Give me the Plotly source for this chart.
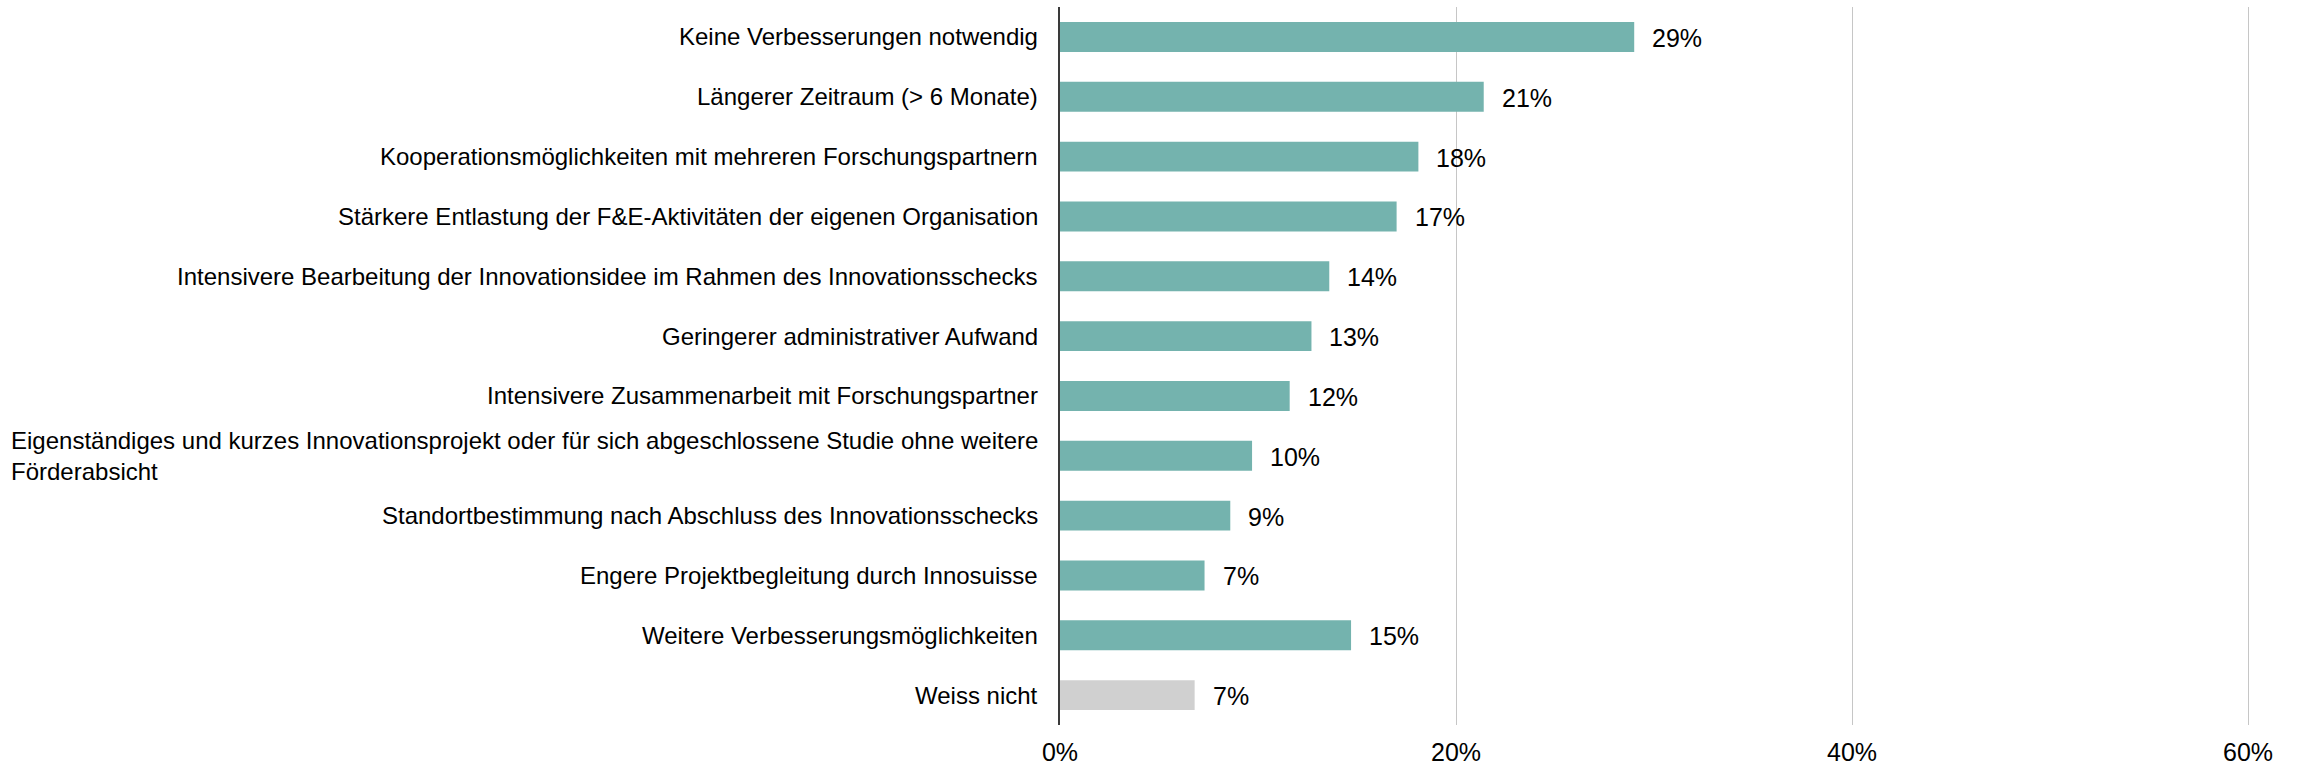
import plotly.graph_objects as go

# Survey answers (share of respondents, in percent)
categories = [
    "Keine Verbesserungen notwendig",
    "Längerer Zeitraum (> 6 Monate)",
    "Kooperationsmöglichkeiten mit mehreren Forschungspartnern",
    "Stärkere Entlastung der F&E-Aktivitäten der eigenen Organisation",
    "Intensivere Bearbeitung der Innovationsidee im Rahmen des Innovationsschecks",
    "Geringerer administrativer Aufwand",
    "Intensivere Zusammenarbeit mit Forschungspartner",
    "Eigenständiges und kurzes Innovationsprojekt oder für sich abgeschlossene Studie ohne weitere<br>Förderabsicht",
    "Standortbestimmung nach Abschluss des Innovationsschecks",
    "Engere Projektbegleitung durch Innosuisse",
    "Weitere Verbesserungsmöglichkeiten",
    "Weiss nicht",
]
values = [29.0, 21.4, 18.1, 17.0, 13.6, 12.7, 11.6, 9.7, 8.6, 7.3, 14.7, 6.8]
x_ticks = [0, 20, 40, 60]
x_tick_labels = ["0%", "20%", "40%", "60%"]

TEAL = "#74B3AE"
GREY = "#D0D0D0"
FONT = "Liberation Sans, Arial, sans-serif"

colors = [GREY if c == "Weiss nicht" else TEAL for c in categories]
ids = [f"c{i}" for i in range(len(categories))]

fig = go.Figure(
    go.Bar(
        x=values,
        y=ids,
        orientation="h",
        width=0.5,
        marker=dict(color=colors, line=dict(width=0)),
        hoverinfo="skip",
    )
)

annotations = []
for cid, label, v in zip(ids, categories, values):
    # category label left of the axis
    annotations.append(dict(
        x=0, xref="paper", y=cid, yref="y",
        text=label, showarrow=False,
        xanchor="right", yanchor="middle", xshift=-20,
        align="left",
        font=dict(family=FONT, size=24, color="#000000"),
    ))
    # value label at the end of the bar
    annotations.append(dict(
        x=v, xref="x", y=cid, yref="y",
        text=f"{round(v):d}%", showarrow=False,
        xanchor="left", yanchor="middle", xshift=16, yshift=-1,
        font=dict(family=FONT, size=25, color="#000000"),
    ))

fig.update_layout(
    width=2300, height=768,
    margin=dict(l=1060, r=50, t=7, b=43, autoexpand=False),
    paper_bgcolor="white", plot_bgcolor="white",
    showlegend=False,
    bargap=0.5,
    annotations=annotations,
    xaxis=dict(
        range=[0, 60.1],
        tickvals=x_ticks, ticktext=x_tick_labels,
        showgrid=True, gridcolor="#C6C6C6", gridwidth=1,
        zeroline=False, showline=False,
        ticks="", ticklabelstandoff=10,
        automargin=False,
        tickfont=dict(family=FONT, size=25, color="#000000"),
        fixedrange=True,
    ),
    yaxis=dict(
        categoryorder="array", categoryarray=ids,
        autorange="reversed",
        showticklabels=False, ticks="",
        showgrid=False, zeroline=False,
        showline=True, linecolor="#3A3A3A", linewidth=2,
        automargin=False,
        fixedrange=True,
    ),
)

fig.write_html("out.html", config={"displayModeBar": False})
